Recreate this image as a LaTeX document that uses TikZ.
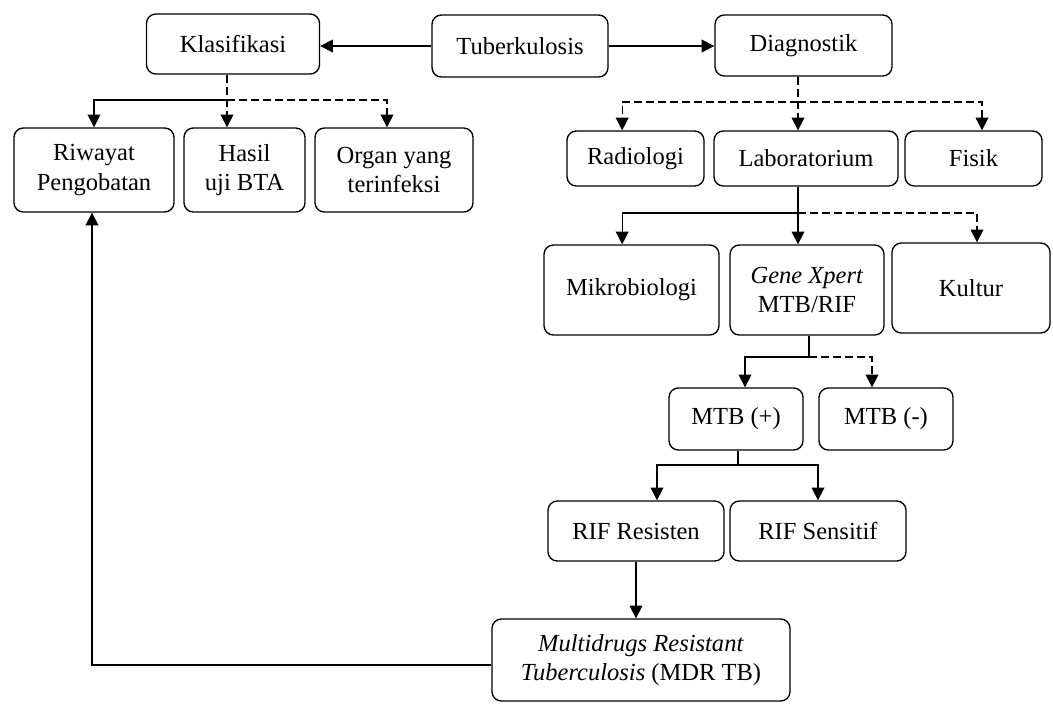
\documentclass[tikz,border=0pt]{standalone}
\usepackage{fontspec}
\setmainfont{Liberation Serif}
\usetikzlibrary{arrows.meta}
\begin{document}
\begin{tikzpicture}[x=0.75pt, y=-0.75pt,
    box/.style={draw, rounded corners=7pt, line width=1pt, align=center,
      inner sep=0pt, font=\fontsize{18.4}{22}\selectfont},
    arr/.style={-{Triangle[length=9.5pt,width=9.5pt]}, line width=1pt},
    dsh/.style={dash pattern=on 6pt off 3pt}]
  \useasboundingbox (0,0) rectangle (1053,704);
  % Top row
  \node[box, minimum width=129.75pt, minimum height=45pt]   (klas) at (233,44)  {Klasifikasi};
  \node[box, minimum width=132pt, minimum height=46.5pt]    (tbc)  at (520,46)  {Tuberkulosis};
  \node[box, minimum width=132.75pt, minimum height=45.75pt](diag) at (803.5,45.5) {Diagnostik};
  % Klasifikasi children
  \node[box, minimum width=120pt, minimum height=63pt]      (riw)  at (94,170)  {Riwayat\\Pengobatan};
  \node[box, minimum width=90.75pt, minimum height=63pt]    (bta)  at (244.5,170) {Hasil\\uji BTA};
  \node[box, minimum width=118.5pt, minimum height=63pt]    (org)  at (394,170) {Organ yang\\terinfeksi};
  % Diagnostik children
  \node[box, minimum width=102.75pt, minimum height=41.25pt](rad)  at (635.5,158.5) {Radiologi};
  \node[box, minimum width=138pt, minimum height=41.25pt]   (lab)  at (806,158.5) {Laboratorium};
  \node[box, minimum width=102.75pt, minimum height=41.25pt](fis)  at (973.5,158.5) {Fisik};
  % Laboratorium children
  \node[box, minimum width=131.25pt, minimum height=67.5pt] (mik)  at (631.5,290) {Mikrobiologi};
  \node[box, minimum width=115.5pt, minimum height=67.5pt]  (gene) at (807,290) {\textit{Gene Xpert}\\MTB/RIF};
  \node[box, minimum width=118.5pt, minimum height=67.5pt]  (kul)  at (971,288) {Kultur};
  % Gene Xpert results
  \node[box, minimum width=100.5pt, minimum height=46.5pt]  (mtbp) at (736,419) {MTB (+)};
  \node[box, minimum width=100.5pt, minimum height=46.5pt]  (mtbn) at (886,419) {MTB (-)};
  \node[box, minimum width=132pt, minimum height=45pt]      (rres) at (636,531) {RIF Resisten};
  \node[box, minimum width=132pt, minimum height=45pt]      (rsen) at (818,531) {RIF Sensitif};
  \node[box, minimum width=223.5pt, minimum height=61.5pt]  (mdr)  at (641,660)
    {\textit{Multidrugs Resistant}\\\textit{Tuberculosis} (MDR TB)};
  % Fork points
  \coordinate (kb) at (227,100);
  \coordinate (db) at (798,102);
  \coordinate (lb) at (798,213);
  \coordinate (gb) at (809,357);
  \coordinate (mb) at (738,465);
  % Tuberkulosis
  \draw[arr] (tbc.west) -- (tbc.west -| klas.east);
  \draw[arr] (tbc.east) -- (tbc.east -| diag.west);
  % Klasifikasi
  \draw[arr] (kb) -| (riw.north);
  \draw[arr, dsh] (kb |- klas.south) -- (kb |- bta.north);
  \draw[arr, dsh] (kb) -| ([xshift=-5.25pt]org.north);
  % Diagnostik
  \draw[arr, dsh] (db |- diag.south) -- (db |- lab.north);
  \draw[arr, dsh] (db) -| ([xshift=-10pt]rad.north);
  \draw[arr, dsh] (db) -| ([xshift=6.4pt]fis.north);
  % Laboratorium
  \draw[arr] (lb |- lab.south) -- (lb |- gene.north);
  \draw[arr] (lb) -| ([xshift=-7pt]mik.north);
  \draw[arr, dsh] (lb) -| ([xshift=4.5pt]kul.north);
  % Gene Xpert
  \draw[line width=1pt] (gb |- gene.south) -- (gb);
  \draw[arr] (gb) -| ([xshift=6.75pt]mtbp.north);
  \draw[arr, dsh] (gb) -| ([xshift=-10.5pt]mtbn.north);
  % MTB (+)
  \draw[line width=1pt] (mb |- mtbp.south) -- (mb);
  \draw[arr] (mb) -| ([xshift=15.75pt]rres.north);
  \draw[arr] (mb) -| (rsen.north);
  % MDR TB
  \draw[arr] (rres.south) -- (rres.south |- mdr.north);
  \draw[arr] ([yshift=-3.75pt]mdr.west) -| ([xshift=-1.5pt]riw.south);
\end{tikzpicture}
\end{document}
